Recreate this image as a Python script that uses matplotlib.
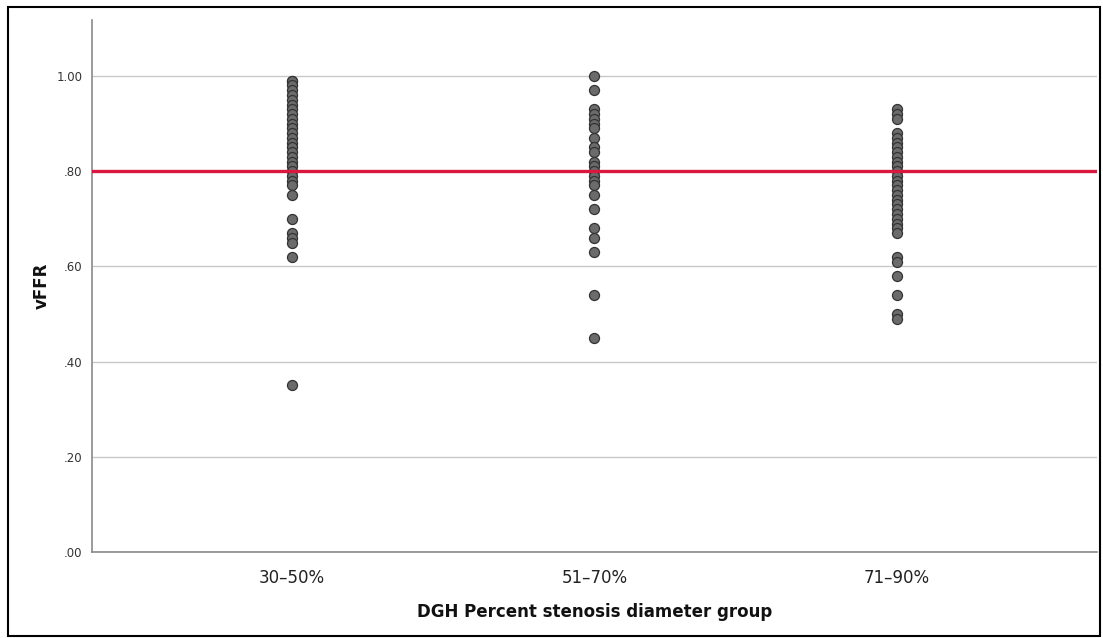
import matplotlib
matplotlib.use("Agg")
import matplotlib.pyplot as plt
from matplotlib.patches import Rectangle

groups = ["30–50%", "51–70%", "71–90%"]

vffr_30_50 = [0.99, 0.99, 0.98, 0.97, 0.96, 0.95, 0.94, 0.93, 0.92, 0.91, 0.90,
              0.89, 0.88, 0.87, 0.86, 0.85, 0.84, 0.83, 0.82, 0.81, 0.80, 0.79,
              0.78, 0.77, 0.75, 0.70, 0.67, 0.66, 0.65, 0.62, 0.35]
vffr_51_70 = [1.00, 0.97, 0.93, 0.92, 0.91, 0.90, 0.89, 0.87, 0.85, 0.84, 0.82,
              0.81, 0.80, 0.79, 0.78, 0.77, 0.75, 0.72, 0.68, 0.66, 0.63, 0.54,
              0.45]
vffr_71_90 = [0.93, 0.92, 0.91, 0.88, 0.87, 0.86, 0.85, 0.84, 0.83, 0.82, 0.81,
              0.80, 0.79, 0.78, 0.77, 0.76, 0.75, 0.74, 0.73, 0.72, 0.71, 0.70,
              0.69, 0.68, 0.67, 0.62, 0.61, 0.58, 0.54, 0.50, 0.49]

cutoff = 0.80
y_ticks = [0.0, 0.2, 0.4, 0.6, 0.8, 1.0]
y_tick_labels = [".00", ".20", ".40", ".60", ".80", "1.00"]

fig = plt.figure(figsize=(11.03, 6.38), dpi=100)
ax = fig.add_axes([0.0834, 0.1348, 0.911, 0.8339])

for i, vals in enumerate([vffr_30_50, vffr_51_70, vffr_71_90]):
    ax.scatter([i] * len(vals), vals, s=52, color="#6b6b6b",
               edgecolors="#333333", linewidths=0.9, zorder=3)

ax.axhline(cutoff, color="#d9173f", linewidth=2.4, zorder=4)

ax.set_xlim(-0.66, 2.66)
ax.set_ylim(0, 1.1176)
ax.set_xticks(range(len(groups)))
ax.set_xticklabels(groups, fontsize=12, color="#222222")
ax.set_yticks(y_ticks)
ax.set_yticklabels(y_tick_labels, fontsize=8.5, color="#333333")
ax.tick_params(length=0)
ax.tick_params(axis="x", pad=12)
ax.tick_params(axis="y", pad=7)
ax.yaxis.grid(True, color="#c8c8c8", linewidth=1)
ax.set_axisbelow(True)

for side in ["top", "right"]:
    ax.spines[side].set_visible(False)
for side in ["left", "bottom"]:
    ax.spines[side].set_color("#8a8a8a")
    ax.spines[side].set_linewidth(1.2)

ax.set_xlabel("DGH Percent stenosis diameter group", fontsize=12,
              fontweight="bold", labelpad=12, color="#111111")
ax.set_ylabel("vFFR", fontsize=12, fontweight="bold", labelpad=4, color="#111111")

fig.patches.append(Rectangle((0.007, 0.003), 0.99, 0.986, transform=fig.transFigure,
                             fill=False, edgecolor="black", linewidth=1.5))

fig.savefig("out.png", dpi=100)
